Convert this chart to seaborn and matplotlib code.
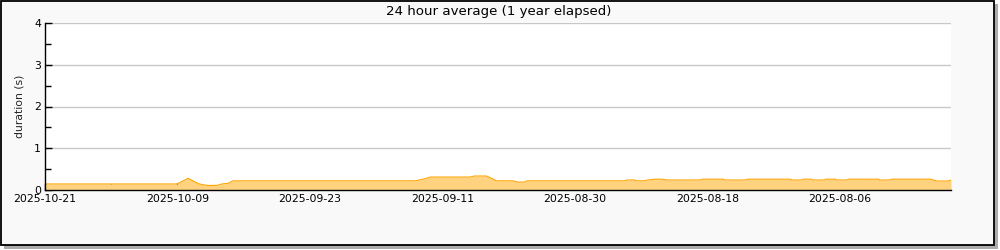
import matplotlib
matplotlib.use("Agg")
import matplotlib.pyplot as plt
from matplotlib.patches import Rectangle
from matplotlib.ticker import MultipleLocator
import seaborn as sns
import pandas as pd

# data: days before the latest sample (x axis runs backwards in time)
days_ago = [0.0, 11.96, 12.95, 13.95, 14.67, 15.58, 16.03, 16.6, 17.03, 33.5, 33.9, 34.4, 34.9,
            38.5, 38.9, 40.0, 40.9, 42.4, 42.8, 43.4, 43.7, 52.5, 52.7, 53.4, 53.6, 54.3, 54.6,
            55.3, 55.8, 56.4, 59.3, 59.6, 61.4, 61.6, 63.4, 63.7, 67.5, 67.7, 68.5, 68.7, 69.4,
            69.6, 70.6, 70.7, 71.6, 71.7, 72.6, 72.8, 75.5, 75.6, 76.5, 76.7, 80.2, 80.8, 81.8, 82.07]
duration = [0.145, 0.145, 0.28, 0.145, 0.11, 0.11, 0.145, 0.16, 0.22, 0.22, 0.24, 0.27, 0.31,
            0.31, 0.335, 0.335, 0.22, 0.22, 0.19, 0.19, 0.22, 0.22, 0.24, 0.24, 0.22, 0.22, 0.24,
            0.26, 0.26, 0.24, 0.24, 0.26, 0.26, 0.24, 0.24, 0.26, 0.26, 0.24, 0.24, 0.26, 0.26,
            0.24, 0.24, 0.26, 0.26, 0.24, 0.24, 0.26, 0.26, 0.24, 0.24, 0.26, 0.26, 0.215, 0.215, 0.24]
tick_days = [0, 12, 24, 36, 48, 60, 72]
tick_labels = ["2025-10-21", "2025-10-09", "2025-09-23", "2025-09-11",
               "2025-08-30", "2025-08-18", "2025-08-06"]
y_ticks = [0, 1, 2, 3, 4]

df = pd.DataFrame({"days": days_ago, "duration": duration})

sns.set_style("white")
plt.rcParams["font.family"] = ["DejaVu Sans"]

W, H = 1000, 250
fig = plt.figure(figsize=(10, 2.5), dpi=100, facecolor="white")

# frame with drop shadow
fig.patches.append(Rectangle((4 / W, 1 - 249 / H), 994 / W, 245 / H, transform=fig.transFigure,
                             facecolor="#acacac", edgecolor="none", zorder=-10))
fig.patches.append(Rectangle((0.5 / W, 1 - 245 / H), 993.5 / W, 244.5 / H, transform=fig.transFigure,
                             facecolor="#f9f9f9", edgecolor="black", linewidth=1.3, zorder=-9))

ax = fig.add_axes([45 / W, 1 - 190 / H, 906 / W, 167 / H])
ax.set_facecolor("white")

ax.fill_between(df["days"], df["duration"], 0, color="#ffd27f", linewidth=0, zorder=2)
sns.lineplot(data=df, x="days", y="duration", ax=ax, color="#ffa500", linewidth=0.8, zorder=3)

ax.set_xlim(0, 82.07)
ax.set_ylim(0, 4)
ax.set_xticks(tick_days)
ax.set_xticklabels(tick_labels)
ax.xaxis.set_minor_locator(MultipleLocator(6))
ax.set_yticks(y_ticks)
ax.yaxis.set_minor_locator(MultipleLocator(0.5))
ax.tick_params(axis="both", which="major", direction="in", length=5, width=1, colors="black",
               labelsize=7.8, pad=3)
ax.tick_params(axis="both", which="minor", direction="in", length=4, width=1, colors="black")
ax.tick_params(axis="x", which="both", bottom=True)
ax.tick_params(axis="y", which="both", left=True)

ax.grid(axis="y", which="major", color="#c8c8c8", linewidth=1, zorder=1)
ax.set_axisbelow(True)
for s in ["top", "right"]:
    ax.spines[s].set_visible(False)
for s in ["left", "bottom"]:
    ax.spines[s].set_color("black")
    ax.spines[s].set_linewidth(1)
    ax.spines[s].set_zorder(5)

ax.set_xlabel("")
ax.set_ylabel("duration (s)", fontsize=7.8, labelpad=7)

fig.text(499 / W, 1 - 11 / H, "24 hour average (1 year elapsed)", ha="center", va="center",
         fontsize=9.6, color="black")

fig.savefig("out.png", dpi=100, facecolor="white")
